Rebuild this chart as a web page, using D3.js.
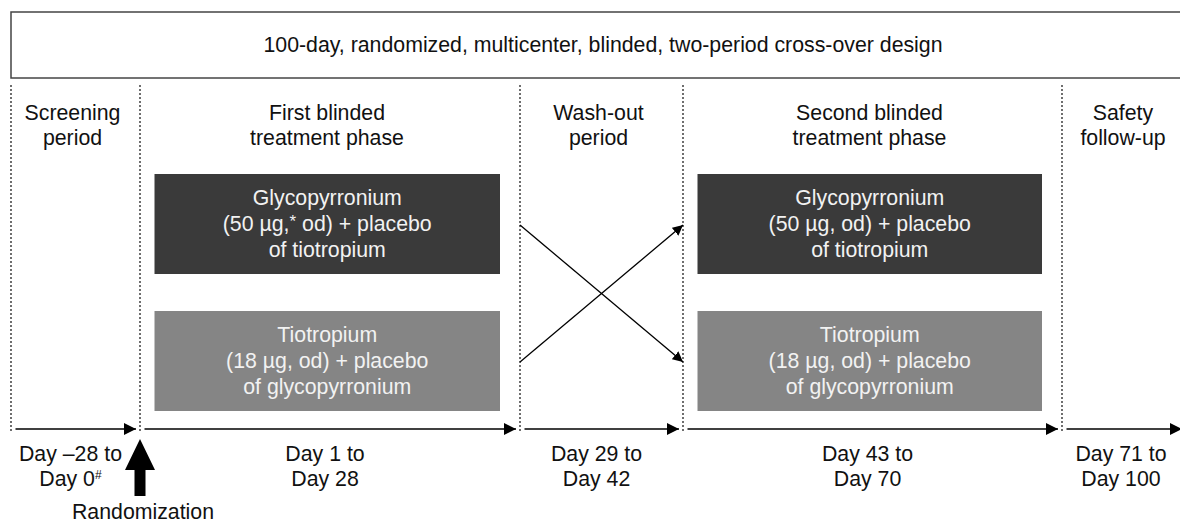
<!DOCTYPE html>
<html>
<head>
<meta charset="utf-8">
<script src="https://cdn.jsdelivr.net/npm/d3@7"></script>
<style>
  body { margin: 0; background: #fff; }
  text { font-family: "Liberation Sans", Arial, sans-serif; }
</style>
</head>
<body>
<div id="chart"></div>
<script>
// study design data
var title = "100-day, randomized, multicenter, blinded, two-period cross-over design";
var periods = [
    {name: ["Screening", "period"], start: -28, end: 0},
    {name: ["First blinded", "treatment phase"], start: 1, end: 28},
    {name: ["Wash-out", "period"], start: 29, end: 42},
    {name: ["Second blinded", "treatment phase"], start: 43, end: 70},
    {name: ["Safety", "follow-up"], start: 71, end: 100}
];
var dayLabels = [
    ["Day \u201328 to", "Day 0#"],
    ["Day 1 to", "Day 28"],
    ["Day 29 to", "Day 42"],
    ["Day 43 to", "Day 70"],
    ["Day 71 to", "Day 100"]
];
var treatments = [
    {period: 1, arm: 0, lines: ["Glycopyrronium", "(50 \u00b5g,* od) + placebo", "of tiotropium"]},
    {period: 1, arm: 1, lines: ["Tiotropium", "(18 \u00b5g, od) + placebo", "of glycopyrronium"]},
    {period: 3, arm: 0, lines: ["Glycopyrronium", "(50 \u00b5g, od) + placebo", "of tiotropium"]},
    {period: 3, arm: 1, lines: ["Tiotropium", "(18 \u00b5g, od) + placebo", "of glycopyrronium"]}
];
var armColours = ["#3a3a3a", "#858585"];
var randomizationLabel = "Randomization";

var width = 1180, height = 529;
var fs = '21.3px';

var svg = d3.select('#chart')
    .append('svg')
    .attr('width', width)
    .attr('height', height);

var defs = svg.append('defs');
defs.append('marker')
    .attr('id', 'head')
    .attr('viewBox', '0 0 10 10')
    .attr('refX', 10).attr('refY', 5)
    .attr('markerWidth', 8).attr('markerHeight', 8)
    .attr('markerUnits', 'strokeWidth')
    .attr('orient', 'auto')
    .append('path')
    .attr('d', 'M0,0 L10,5 L0,10 Z')
    .attr('fill', '#000');

// piecewise day scale: boundaries between periods
var bounds = periods.map(function(p) { return p.start - 0.5; }).concat([100.5]);
var x = d3.scaleLinear()
    .domain(bounds)
    .range([11, 140, 520, 683, 1062, 1190]);

// arm rows
var y = d3.scaleBand()
    .domain([0, 1])
    .range([174, 411])
    .paddingInner(0.27);

var lineH = 25;

// title box
svg.append('rect')
    .attr('x', 11).attr('y', 12)
    .attr('width', 1190).attr('height', 66)
    .attr('fill', 'none')
    .attr('stroke', '#444')
    .attr('stroke-width', 1.5);
svg.append('text')
    .attr('x', 603).attr('y', 52)
    .attr('text-anchor', 'middle')
    .style('font-size', fs)
    .style('fill', '#111')
    .text(title);

// dotted period boundaries
svg.selectAll('.bound')
    .data(bounds.slice(0, 5))
    .enter()
    .append('line')
    .attr('x1', function(d) { return x(d); })
    .attr('x2', function(d) { return x(d); })
    .attr('y1', 85).attr('y2', 431)
    .attr('stroke', '#222')
    .attr('stroke-width', 1.3)
    .attr('stroke-dasharray', '2,2');

// period headers
var header = svg.selectAll('.header')
    .data(periods)
    .enter()
    .append('text')
    .attr('text-anchor', 'middle')
    .style('font-size', fs)
    .style('fill', '#111');
header.selectAll('tspan')
    .data(function(d) {
        var cx = (x(d.start - 0.5) + x(d.end + 0.5)) / 2 - 3;
        return d.name.map(function(t, i) { return {t: t, i: i, cx: cx}; });
    })
    .enter()
    .append('tspan')
    .attr('x', function(d) { return d.cx; })
    .attr('y', function(d) { return 120 + d.i * lineH; })
    .text(function(d) { return d.t; });

// treatment boxes
var tb = svg.selectAll('.treat')
    .data(treatments)
    .enter()
    .append('g');
tb.append('rect')
    .attr('x', function(d) { return x(periods[d.period].start - 0.5) + 14.5; })
    .attr('y', function(d) { return y(d.arm); })
    .attr('width', function(d) {
        var p = periods[d.period];
        return x(p.end + 0.5) - x(p.start - 0.5) - 34.5;
    })
    .attr('height', y.bandwidth())
    .attr('fill', function(d) { return armColours[d.arm]; });
tb.each(function(d) {
    var p = periods[d.period];
    var cx = (x(p.start - 0.5) + 14.5 + x(p.end + 0.5) - 20) / 2;
    var cy = y(d.arm) + y.bandwidth() / 2;
    var t = d3.select(this).append('text')
        .attr('text-anchor', 'middle')
        .style('font-size', fs)
        .style('fill', '#f2f2f2');
    d.lines.forEach(function(line, i) {
        var ts = t.append('tspan')
            .attr('x', cx)
            .attr('y', cy + 7 + (i - 1) * 26);
        var parts = line.split('*');
        ts.text(parts[0]);
        if (parts.length > 1) {
            t.append('tspan').attr('dy', -4).style('font-size', '17px').text('*');
            t.append('tspan').attr('dy', 4).text(parts[1]);
        }
    });
});

// cross-over arrows through wash-out
var washStart = x(periods[2].start - 0.5), washEnd = x(periods[2].end + 0.5);
var crossY = [y(0) + 51, y(1) + 51];
[[0, 1], [1, 0]].forEach(function(pair) {
    svg.append('line')
        .attr('x1', washStart).attr('y1', crossY[pair[0]])
        .attr('x2', washEnd).attr('y2', crossY[pair[1]])
        .attr('stroke', '#000')
        .attr('stroke-width', 1.3)
        .attr('marker-end', 'url(#head)');
});

// timeline arrows
var tlY = 429;
svg.selectAll('.tl')
    .data(periods)
    .enter()
    .append('line')
    .attr('x1', function(d) { return x(d.start - 0.5) + 4.5; })
    .attr('x2', function(d, i) { return i === 4 ? 1182 : x(d.end + 0.5) - 4; })
    .attr('y1', tlY).attr('y2', tlY)
    .attr('stroke', '#000')
    .attr('stroke-width', 1.5)
    .attr('marker-end', 'url(#head)');

// day labels
var dl = svg.selectAll('.day')
    .data(dayLabels)
    .enter()
    .append('text')
    .attr('text-anchor', 'middle')
    .style('font-size', fs)
    .style('fill', '#111');
dl.each(function(d, i) {
    var p = periods[i];
    var cx = (x(p.start - 0.5) + x(p.end + 0.5)) / 2 - 5;
    var t = d3.select(this);
    d.forEach(function(line, j) {
        var parts = line.split('#');
        t.append('tspan')
            .attr('x', cx)
            .attr('y', 461 + j * lineH)
            .text(parts[0]);
        if (parts.length > 1) {
            t.append('tspan').attr('dy', -7).style('font-size', '12px').text('#');
        }
    });
});

// randomization arrow
var rx = x(0.5);
svg.append('path')
    .attr('d', d3.line()([
        [rx, 439], [rx + 15, 470], [rx + 5.5, 470], [rx + 5.5, 496],
        [rx - 5.5, 496], [rx - 5.5, 470], [rx - 15, 470]
    ]) + 'Z')
    .attr('fill', '#000');
svg.append('text')
    .attr('x', rx + 3).attr('y', 519)
    .attr('text-anchor', 'middle')
    .style('font-size', fs)
    .style('fill', '#111')
    .text(randomizationLabel);
</script>
</body>
</html>
